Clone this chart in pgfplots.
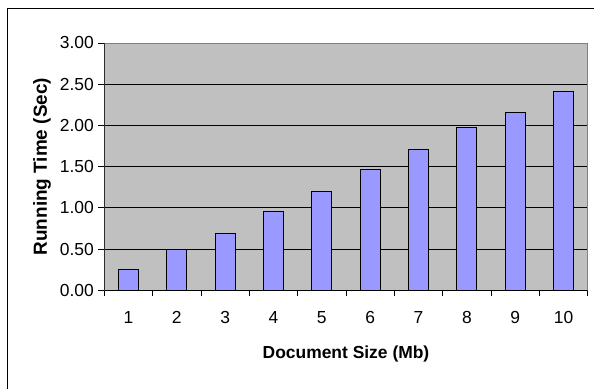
\documentclass[border=0pt]{standalone}
\usepackage{pgfplots}
\pgfplotsset{compat=1.18}
\usepackage{fontspec}
\setmainfont{Liberation Sans}
\definecolor{plotbg}{HTML}{C0C0C0}
\definecolor{barfill}{HTML}{9999FF}
\definecolor{boxgray}{HTML}{808080}
\begin{document}
\begin{tikzpicture}
\useasboundingbox[fill=white] (0bp,0bp) rectangle (594bp,389bp);
\draw[line width=1.6bp] (7.5bp,0bp) -- (7.5bp,380.5bp) -- (594bp,380.5bp);
\begin{axis}[
  at={(104.3bp,98.7bp)}, anchor=south west,
  scale only axis, width=483.4bp, height=247.3bp,
  xmin=0.5, xmax=10.5, ymin=0, ymax=3,
  axis background/.style={fill=plotbg},
  axis line style={draw=boxgray, line width=0.9bp},
  xtick={1,...,10},
  minor xtick={0.5,1.5,...,10.5},
  ytick={0,0.5,...,3},
  xtick pos=bottom, ytick pos=left,
  major x tick style={draw=none},
  minor x tick style={black, line width=0.8bp},
  y tick style={black, line width=0.8bp},
  tick align=outside,
  major tick length=6bp, minor tick length=6bp,
  ymajorgrids, grid style={black, line width=0.8bp},
  /pgf/number format/assume math mode=true,
  yticklabel style={/pgf/number format/fixed, /pgf/number format/fixed zerofill, /pgf/number format/precision=2, xshift=-1bp},
  tick label style={font=\fontsize{17.5}{20}\selectfont},
  xticklabel style={yshift=-12bp},
  xlabel={\textbf{Document Size (Mb)}},
  ylabel={\textbf{Running Time (Sec)}},
  xlabel style={font=\fontsize{17.5}{20}\selectfont, yshift=-15bp},
  ylabel style={font=\fontsize{19}{21}\selectfont, yshift=2bp},
  ybar, bar width=20bp,
]
\addplot[fill=barfill, draw=black, line width=0.9bp] coordinates {
(1,0.25) (2,0.50) (3,0.69) (4,0.96) (5,1.20) (6,1.47) (7,1.71) (8,1.97) (9,2.16) (10,2.41)
};
\draw[black, line width=0.9bp] (rel axis cs:0,0) -- (rel axis cs:0,1);
\draw[black, line width=0.9bp] (rel axis cs:0,0) -- (rel axis cs:1,0);
\end{axis}
\end{tikzpicture}
\end{document}
